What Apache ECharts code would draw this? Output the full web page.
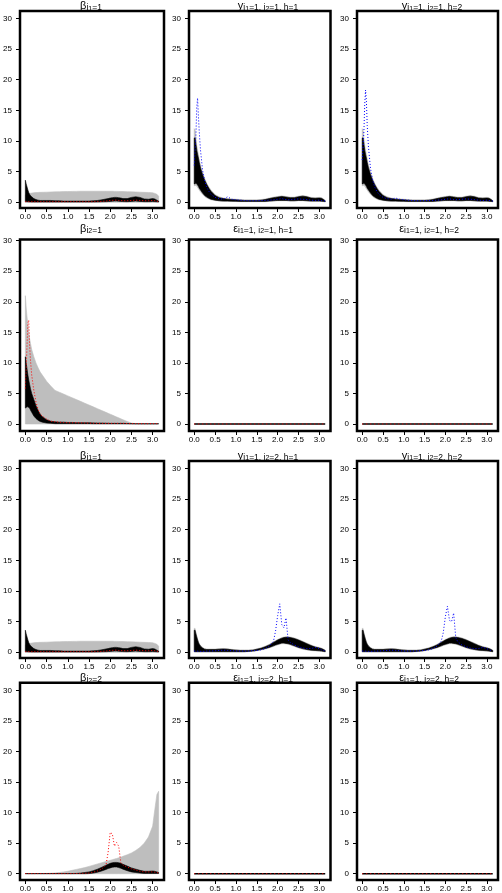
<!DOCTYPE html>
<html><head><meta charset="utf-8">
<script src="https://cdn.jsdelivr.net/npm/echarts@6/dist/echarts.min.js"></script>
<style>html,body{margin:0;padding:0;background:#fff}#c{width:502px;height:893px}</style>
</head><body><div id="c"></div>
<script>
// ---------- DATA ----------
const omega = [0,0.02,0.04,0.06,0.08,0.1,0.12,0.15, 0.2,0.25,0.3,0.35,0.4,
  0.5,0.6,0.7,0.8,0.9,1.0,1.1,1.2,1.3,1.4,1.5, 1.6,1.7,1.8,1.9,
  1.95,2.0,2.05,2.1,2.15,2.2,2.25,2.3, 2.4,2.5,2.6,2.7,2.8,2.9,3.0, 3.05,3.1,3.14];
const xTicks = [0,0.5,1,1.5,2,2.5,3];
const yTicks = [0,5,10,15,20,25,30];

// beta_{i1=1}
const A_grayLo = [0,0,0,0,0,0,0,0, 0,0,0,0,0, 0,0,0,0,0,0,0,0,0,0,0, 0,0,0,0, 0,0,0,0,0,0,0,0, 0,0,0,0,0,0,0, 0,0,0];
const A_grayHi = [1.2,1.25,1.3,1.35,1.4,1.45,1.48,1.5, 1.55,1.58,1.6,1.62,1.63,
  1.65,1.68,1.7,1.72,1.74,1.75,1.77,1.78,1.8,1.8,1.8, 1.8,1.8,1.8,1.8,
  1.8,1.8,1.8,1.78,1.78,1.77,1.76,1.75, 1.72,1.7,1.68,1.65,1.62,1.6,1.55, 1.45,1.3,1.0];
const A_blackLo = [0.1,0.1,0.1,0.08,0.08,0.06,0.06,0.05, 0.05,0.05,0.05,0.05,0.05,
  0.05,0.05,0.05,0.05,0.05,0.05,0.05,0.05,0.05,0.05,0.05, 0.05,0.06,0.08,0.1,
  0.12,0.15,0.18,0.2,0.2,0.18,0.15,0.12, 0.1,0.15,0.2,0.15,0.1,0.1,0.12, 0.1,0.08,0.05];
const A_blackHi = [3.6,3.0,2.5,2.0,1.6,1.3,1.1,0.9, 0.6,0.45,0.35,0.3,0.3,
  0.3,0.3,0.25,0.25,0.2,0.2,0.2,0.2,0.2,0.2,0.2, 0.25,0.3,0.4,0.55,
  0.6,0.7,0.75,0.8,0.8,0.75,0.7,0.6, 0.6,0.8,0.9,0.8,0.55,0.5,0.6, 0.55,0.35,0.2];
const A_red = [0.1,0.1,0.1,0.1,0.1,0.1,0.1,0.1, 0.1,0.1,0.1,0.1,0.1,
  0.1,0.1,0.1,0.1,0.1,0.1,0.1,0.1,0.1,0.1,0.1, 0.1,0.12,0.15,0.2,
  0.25,0.3,0.32,0.35,0.35,0.3,0.28,0.25, 0.25,0.3,0.35,0.3,0.25,0.25,0.3, 0.25,0.2,0.1];

// beta_{i2=1}
const B_grayLo = [0,0,0,0,0,0,0,0, 0,0,0,0,0, 0,0,0,0,0,0,0,0,0,0,0, 0,0,0,0, 0,0,0,0,0,0,0,0, 0,0,0,0,0,0,0, 0,0,0];
const B_grayHi = [21,19,17.5,16.2,15,14,13.2,12.2, 11,10,9.2,8.5,8.0,
  7.0,6.2,5.5,5.2,4.9,4.6,4.3,4.0,3.7,3.4,3.1, 2.8,2.5,2.2,1.9,
  1.75,1.6,1.45,1.3,1.15,1.0,0.85,0.7, 0.4,0.15,0.05,0.02,0.02,0.02,0.02, 0.02,0.02,0.02];
const B_blackLo = [2.6,2.7,2.8,2.8,2.7,2.6,2.3,1.9, 1.3,0.9,0.6,0.4,0.3,
  0.15,0.1,0.05,0.05,0.05,0.05,0.05,0.05,0.05,0.05,0.05, 0.03,0.03,0.03,0.03,
  0.03,0.03,0.03,0.03,0.03,0.03,0.03,0.03, 0.02,0.02,0.02,0.02,0.02,0.02,0.02, 0.02,0.02,0.02];
const B_blackHi = [11,10,9,8,7.2,6.5,5.8,5.0, 4.0,3.0,2.2,1.6,1.2,
  0.7,0.45,0.35,0.3,0.3,0.25,0.25,0.22,0.22,0.2,0.2, 0.18,0.15,0.15,0.12,
  0.12,0.1,0.1,0.1,0.1,0.1,0.1,0.1, 0.08,0.06,0.05,0.05,0.05,0.05,0.05, 0.05,0.05,0.05];
const B_red = [5.8,9,13,16.5,17,13,10.5,8.0, 5.5,3.6,2.4,1.6,1.3,
  0.8,0.45,0.35,0.3,0.25,0.2,0.2,0.2,0.18,0.16,0.15, 0.12,0.1,0.1,0.1,
  0.1,0.1,0.1,0.1,0.1,0.1,0.1,0.1, 0.08,0.06,0.05,0.05,0.05,0.05,0.05, 0.05,0.05,0.05];

// y_{i1=1, i2=1}
const C_grayLo = [2.7,2.7,2.8,2.6,2.4,2.2,2.0,1.7, 1.3,0.95,0.7,0.55,0.4,
  0.28,0.2,0.15,0.15,0.13,0.12,0.1,0.1,0.1,0.1,0.1, 0.1,0.1,0.15,0.2,
  0.22,0.24,0.25,0.25,0.25,0.25,0.22,0.2, 0.2,0.25,0.25,0.2,0.15,0.15,0.15, 0.13,0.1,0.08];
const C_grayHi = [12,11.8,10.5,9.3,8.5,7.8,7.0,6.0, 4.9,3.9,3.1,2.5,2.0,
  1.25,0.9,0.7,0.6,0.55,0.5,0.45,0.4,0.4,0.4,0.4, 0.45,0.55,0.7,0.85,
  0.9,0.95,1.0,1.05,1.0,0.95,0.9,0.85, 0.85,1.0,1.1,1.0,0.8,0.75,0.8, 0.75,0.55,0.3];
const C_blackLo = [3.0,3.0,3.2,3.0,2.8,2.6,2.3,2.0, 1.5,1.1,0.85,0.65,0.5,
  0.35,0.25,0.2,0.2,0.18,0.16,0.15,0.15,0.15,0.15,0.15, 0.15,0.15,0.2,0.25,
  0.28,0.3,0.3,0.3,0.3,0.3,0.28,0.25, 0.25,0.3,0.3,0.25,0.2,0.2,0.2, 0.18,0.15,0.1];
const C_blackHi = [10.5,10.5,9.5,8.5,7.8,7.2,6.5,5.6, 4.5,3.6,2.9,2.3,1.8,
  1.1,0.75,0.6,0.5,0.45,0.4,0.35,0.3,0.3,0.3,0.3, 0.35,0.45,0.6,0.75,
  0.8,0.85,0.9,0.95,0.9,0.85,0.8,0.75, 0.75,0.9,1.0,0.9,0.7,0.65,0.7, 0.65,0.45,0.25];
const C_blue = [6,6,11,15.5,17,14,11.5,8.5, 5.2,3.5,2.4,1.8,1.3,
  0.8,0.6,0.5,0.9,0.5,0.4,0.35,0.3,0.25,0.25,0.25, 0.3,0.3,0.35,0.4,
  0.45,0.5,0.55,0.6,0.5,0.45,0.4,0.45, 0.5,0.55,0.5,0.45,0.35,0.3,0.35, 0.3,0.25,0.2];
const D_blue = [6.9,7.0,11.5,16,18.3,16.5,12.5,9.0, 5.5,3.6,2.5,1.8,1.3,
  0.8,0.6,0.5,0.7,0.5,0.4,0.35,0.3,0.25,0.25,0.25, 0.3,0.3,0.35,0.4,
  0.45,0.5,0.55,0.55,0.5,0.45,0.4,0.45, 0.5,0.55,0.5,0.45,0.35,0.3,0.35, 0.3,0.25,0.2];

// y_{i1=1, i2=2}
const E_grayLo = [0.05,0.05,0.05,0.05,0.05,0.05,0.05,0.05, 0.05,0.05,0.05,0.05,0.05,
  0.05,0.05,0.05,0.05,0.05,0.05,0.05,0.05,0.1,0.15,0.25, 0.38,0.52,0.72,0.95,
  1.1,1.2,1.3,1.4,1.4,1.35,1.3,1.2, 0.95,0.7,0.5,0.38,0.28,0.22,0.18, 0.15,0.1,0.05];
const E_grayHi = [3.9,3.9,3.2,2.7,2.2,1.8,1.45,1.1, 0.8,0.6,0.55,0.55,0.55,
  0.55,0.6,0.62,0.58,0.48,0.42,0.38,0.38,0.38,0.42,0.58, 0.75,1.0,1.3,1.7,
  1.9,2.1,2.25,2.4,2.5,2.55,2.55,2.5, 2.35,2.1,1.8,1.5,1.2,0.95,0.8, 0.68,0.52,0.35];
const E_blackLo = [0.1,0.1,0.1,0.1,0.1,0.1,0.1,0.1, 0.1,0.1,0.1,0.1,0.1,
  0.1,0.1,0.1,0.1,0.1,0.1,0.1,0.1,0.15,0.2,0.3, 0.45,0.6,0.8,1.05,
  1.2,1.3,1.4,1.5,1.5,1.45,1.4,1.3, 1.05,0.8,0.6,0.45,0.35,0.3,0.25, 0.2,0.15,0.1];
const E_blackHi = [3.6,3.6,3.0,2.5,2.0,1.6,1.3,1.0, 0.7,0.5,0.45,0.45,0.45,
  0.45,0.5,0.55,0.5,0.4,0.35,0.3,0.3,0.3,0.35,0.5, 0.65,0.9,1.2,1.6,
  1.8,2.0,2.15,2.3,2.4,2.45,2.45,2.4, 2.25,2.0,1.7,1.4,1.1,0.85,0.7, 0.6,0.45,0.3];
const E_blue = [0.2,0.2,0.2,0.2,0.15,0.15,0.15,0.15, 0.15,0.15,0.2,0.2,0.2,
  0.25,0.3,0.35,0.3,0.25,0.2,0.2,0.2,0.2,0.25,0.3, 0.4,0.6,1.0,1.8,
  3.5,6.0,7.9,4.5,4.0,5.6,2.0,1.6, 1.2,0.9,0.7,0.6,0.6,0.8,0.6, 0.4,0.3,0.2];
const F_blue = [0.2,0.2,0.2,0.2,0.15,0.15,0.15,0.15, 0.15,0.15,0.2,0.2,0.2,
  0.25,0.3,0.35,0.3,0.25,0.2,0.2,0.2,0.2,0.25,0.3, 0.4,0.6,1.0,1.8,
  3.2,5.8,7.5,5.2,5.0,6.4,2.4,1.7, 1.2,0.9,0.7,0.6,0.6,0.8,0.6, 0.4,0.3,0.2];

// beta_{i2=2}
const G_grayLo = [0,0,0,0,0,0,0,0, 0,0,0,0,0, 0,0,0,0,0,0,0,0,0,0,0, 0,0,0,0, 0,0,0,0,0,0,0,0, 0,0,0,0,0,0,0, 0,0,0];
const G_grayHi = [0.02,0.02,0.02,0.02,0.02,0.02,0.02,0.02, 0.02,0.03,0.03,0.04,0.04,
  0.05,0.08,0.12,0.2,0.3,0.4,0.55,0.7,0.85,1.0,1.2, 1.4,1.6,1.8,2.0,
  2.1,2.2,2.3,2.4,2.5,2.6,2.7,2.85, 3.1,3.4,3.8,4.3,5.0,6.0,7.8, 10.5,13.0,13.5];
const G_blackLo = [0,0,0,0,0,0,0,0, 0,0,0,0,0, 0,0,0,0,0,0,0,0,0,0,0.02,
  0.1,0.25,0.45,0.7, 0.85,0.95,1.05,1.1,1.1,1.0,0.9,0.75, 0.5,0.3,0.2,0.1,0.05,0.05,0.05, 0.05,0.05,0.05];
const G_blackHi = [0.03,0.03,0.03,0.03,0.03,0.03,0.03,0.03, 0.03,0.03,0.03,0.03,0.03,
  0.03,0.03,0.03,0.03,0.03,0.03,0.03,0.05,0.1,0.2,0.3, 0.5,0.75,1.05,1.4,
  1.55,1.7,1.8,1.85,1.85,1.8,1.7,1.55, 1.25,0.95,0.75,0.55,0.4,0.4,0.45, 0.4,0.3,0.2];
const G_red = [0.02,0.02,0.02,0.02,0.02,0.02,0.02,0.02, 0.02,0.02,0.02,0.02,0.02,
  0.02,0.02,0.02,0.02,0.02,0.02,0.02,0.03,0.05,0.08,0.1, 0.25,0.45,0.8,1.4,
  3.5,6.8,6.5,4.5,5.1,4.5,1.8,1.4, 1.1,0.8,0.6,0.4,0.3,0.3,0.3, 0.25,0.2,0.1];

// epsilon panels (flat at zero)
const epsOmega = [0, 3.14];
const epsBlack = [0, 0];
const epsRed = [0, 0];

// ---------- LAYOUT ----------
const colLeft = [20, 189, 357], colWidth = [144, 141.5, 141];
const rowTop = [11, 239.5, 461, 682.7], rowHeight = [197, 191.5, 197, 198.3];
const rowYMin = [-0.93, -1.15, -0.93, -1.03], rowYMax = [31.19, 30.2, 31.19, 31.3];
const titleXBeta = 91, titleXY = [0, 268, 432], titleXEps = [0, 263, 429];
const titleY = [6, 228.5, 455.5, 678];
const FONT = 'Liberation Sans, Arial, Helvetica, sans-serif';
const GRAY = '#bebebe';

function sub(sym, parts) {
  let s = '{b|' + sym + '}';
  parts.forEach(p => { s += '{' + (p[1] === 2 ? 't' : 's') + '|' + p[0] + '}'; });
  return s;
}
const T = {
  bi1: sub('β', [['i',1],['1',2],['=1',1]]),
  bi2_1: sub('β', [['i',1],['2',2],['=1',1]]),
  bi2_2: sub('β', [['i',1],['2',2],['=2',1]]),
  y: (i2, h) => sub('y', [['i',1],['1',2],['=1, i',1],['2',2],['=' + i2 + ', h=' + h,1]]),
  e: (i2, h) => sub('ε', [['i',1],['1',2],['=1, i',1],['2',2],['=' + i2 + ', h=' + h,1]])
};

const panels = [
  [{t:T.bi1, g:[A_grayLo,A_grayHi], k:[A_blackLo,A_blackHi], d:A_red, c:'#ff0000'},
   {t:T.y(1,1), g:[C_grayLo,C_grayHi], k:[C_blackLo,C_blackHi], d:C_blue, c:'#0000ff'},
   {t:T.y(1,2), g:[C_grayLo,C_grayHi], k:[C_blackLo,C_blackHi], d:D_blue, c:'#0000ff'}],
  [{t:T.bi2_1, g:[B_grayLo,B_grayHi], k:[B_blackLo,B_blackHi], d:B_red, c:'#ff0000'},
   {t:T.e(1,1), eps:true}, {t:T.e(1,2), eps:true}],
  [{t:T.bi1, g:[A_grayLo,A_grayHi], k:[A_blackLo,A_blackHi], d:A_red, c:'#ff0000'},
   {t:T.y(2,1), g:[E_grayLo,E_grayHi], k:[E_blackLo,E_blackHi], d:E_blue, c:'#0000ff'},
   {t:T.y(2,2), g:[E_grayLo,E_grayHi], k:[E_blackLo,E_blackHi], d:F_blue, c:'#0000ff'}],
  [{t:T.bi2_2, g:[G_grayLo,G_grayHi], k:[G_blackLo,G_blackHi], d:G_red, c:'#ff0000'},
   {t:T.e(2,1), eps:true}, {t:T.e(2,2), eps:true}]
];

function band(idx, lo, hi, color, z) {
  return {
    type: 'custom', xAxisIndex: idx, yAxisIndex: idx, z: z, silent: true, clip: true,
    data: omega.map((w, i) => [w, lo[i], hi[i]]),
    renderItem: function (params, api) {
      if (params.dataIndexInside !== 0) return null;
      const n = params.dataInsideLength;
      const top = [], bot = [];
      for (let i = 0; i < n; i++) {
        const x = api.value(0, i);
        top.push(api.coord([x, api.value(2, i)]));
        bot.push(api.coord([x, api.value(1, i)]));
      }
      return { type: 'polygon', shape: { points: top.concat(bot.reverse()) },
               style: { fill: color, stroke: color, lineWidth: 0.6 } };
    }
  };
}

const grids = [], xAxes = [], yAxes = [], series = [], graphics = [];
const rich = {
  b: { fontSize: 11, lineHeight: 13, fontFamily: FONT, color: '#000', verticalAlign: 'middle' },
  s: { fontSize: 8.5, lineHeight: 9, fontFamily: FONT, color: '#000', verticalAlign: 'bottom' },
  t: { fontSize: 7, lineHeight: 7, fontFamily: FONT, color: '#000', verticalAlign: 'bottom' }
};
let idx = 0;
for (let r = 0; r < 4; r++) {
  for (let c = 0; c < 3; c++) {
    const p = panels[r][c];
    grids.push({ left: colLeft[c], top: rowTop[r], width: colWidth[c], height: rowHeight[r],
      show: true, borderColor: '#000', borderWidth: 2.5, backgroundColor: 'transparent', containLabel: false });
    xAxes.push({ gridIndex: idx, type: 'value', min: -0.126, max: 3.267,
      splitLine: { show: false }, axisLine: { show: false, onZero: false },
      axisTick: { show: true, length: 4, lineStyle: { color: '#000', width: 1 }, customValues: xTicks },
      axisLabel: { show: true, customValues: xTicks, interval: 0, hideOverlap: false, formatter: v => v.toFixed(1),
        fontSize: 8, color: '#000', fontFamily: FONT, margin: 5 } });
    yAxes.push({ gridIndex: idx, type: 'value', min: rowYMin[r], max: rowYMax[r],
      splitLine: { show: false }, axisLine: { show: false, onZero: false },
      axisTick: { show: true, length: 4, lineStyle: { color: '#000', width: 1 }, customValues: yTicks },
      axisLabel: { show: true, customValues: yTicks, interval: 0, hideOverlap: false, formatter: v => String(v),
        fontSize: 8, color: '#000', fontFamily: FONT, margin: 8 } });
    if (p.eps) {
      series.push({ type: 'line', xAxisIndex: idx, yAxisIndex: idx, showSymbol: false, silent: true, z: 3,
        data: epsOmega.map((w, i) => [w, epsBlack[i]]), lineStyle: { color: '#000', width: 1.6 }, animation: false });
      series.push({ type: 'line', xAxisIndex: idx, yAxisIndex: idx, showSymbol: false, silent: true, z: 4,
        data: epsOmega.map((w, i) => [w, epsRed[i]]), lineStyle: { color: '#ff0000', width: 1, type: [1, 3] }, animation: false });
    } else {
      series.push(band(idx, p.g[0], p.g[1], GRAY, 2));
      series.push(band(idx, p.k[0], p.k[1], '#000', 3));
      series.push({ type: 'line', xAxisIndex: idx, yAxisIndex: idx, showSymbol: false, silent: true, z: 4,
        data: omega.map((w, i) => [w, p.d[i]]), lineStyle: { color: p.c, width: 1, type: [1, 2] }, animation: false });
    }
    const tx = c === 0 ? titleXBeta : (p.eps ? titleXEps[c] : titleXY[c]);
    graphics.push({ type: 'text', x: tx, y: titleY[r], z: 10,
      style: { text: p.t, rich: rich, align: 'center', verticalAlign: 'middle', fontFamily: FONT } });
    idx++;
  }
}

const chart = echarts.init(document.getElementById('c'), null, { renderer: 'canvas', width: 502, height: 893 });
chart.setOption({
  animation: false,
  backgroundColor: '#fff',
  grid: grids, xAxis: xAxes, yAxis: yAxes, series: series, graphic: graphics
});
</script></body></html>
